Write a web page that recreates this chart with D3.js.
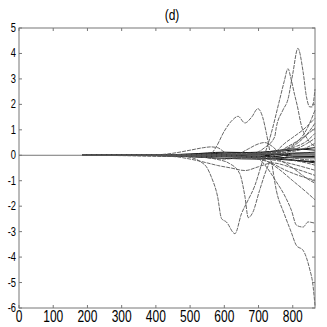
<!DOCTYPE html>
<html>
<head>
<meta charset="utf-8">
<script src="https://cdn.jsdelivr.net/npm/d3@7"></script>
<style>
  body { margin: 0; background: #fff; }
  svg { display: block; }
  text { font-family: "Liberation Sans", Arial, sans-serif; fill: #000; }
</style>
</head>
<body>
<svg id="chart" width="327" height="327"></svg>
<script>
// tick values
var xTicks = [0, 100, 200, 300, 400, 500, 600, 700, 800];
var yTicks = [5, 4, 3, 2, 1, 0, -1, -2, -3, -4, -5, -6];

// the big curves as [x, y]
var baseLine = [[0, 0], [865, 0]];
var humpToMinusSix = [[185, 0], [540, 0], [560, 0.05], [575, 0.3], [600, 0.95], [625, 1.4], [640, 1.53], [660, 1.27], [680, 1.5], [698, 1.83], [712, 1.5], [723, 0.86], [735, 0], [752, -1.38], [775, -2.3], [795, -3.0], [811, -3.55], [830, -3.73], [850, -4.5], [858, -5.0], [865, -5.9]];
var dipThenPeak = [[185, 0], [450, 0], [500, -0.08], [530, -0.25], [550, -0.5], [562, -0.85], [580, -1.6], [592, -2.49], [606, -2.62], [631, -3.08], [650, -2.3], [668, -1.8], [689, -1.2], [710, -0.3], [737, 0.86], [762, 2.2], [775, 2.9], [786, 3.4], [795, 3.0], [805, 2.4], [813, 1.96], [825, 1.18], [845, 0.6], [865, 0.35]];
var wDip = [[185, 0], [480, 0], [525, -0.05], [575, -0.15], [616, -0.33], [645, -0.72], [660, -1.6], [670, -2.45], [683, -2.25], [703, -1.38], [725, -0.5], [750, 0.1], [775, 0.45], [800, 0.7], [830, 1.0], [865, 1.45]];
var rightDip = [[185, 0], [600, 0], [650, -0.05], [700, -0.15], [723, -0.46], [750, -1.0], [777, -1.6], [796, -2.16], [811, -2.75], [830, -2.82], [845, -2.62], [865, -2.67]];
var tallPeak = [[185, 0], [620, 0], [680, 0.05], [718, 0.3], [747, 0.72], [752, 1.1], [771, 1.77], [786, 2.2], [800, 3.2], [815, 4.2], [830, 3.3], [840, 2.3], [850, 1.9], [857, 1.9], [865, 2.6]];
var smallArc = [[185, 0], [400, 0.02], [450, 0.08], [500, 0.2], [540, 0.3], [560, 0.33], [580, 0.3], [600, 0.13], [625, 0.02], [700, 0.05], [865, 0.1]];
var midArc = [[185, 0], [600, 0], [640, 0.05], [670, 0.25], [700, 0.45], [718, 0.5], [740, 0.35], [765, 0.05], [800, -0.1], [865, -0.2]];

// fan of lines opening at the right edge
var fanUp1 = [[185, 0], [500, 0.02], [650, 0.05], [750, 0.15], [800, 0.4], [840, 1.0], [865, 1.77]];
var fanUp2 = [[185, 0], [500, -0.02], [650, 0.02], [750, 0.1], [800, 0.35], [840, 0.8], [865, 1.26]];
var fanUp3 = [[185, 0], [500, 0.01], [650, 0.04], [727, -0.1], [780, 0.3], [830, 0.7], [865, 1.06]];
var fanUp4 = [[185, 0], [500, 0.03], [650, 0.08], [750, 0.12], [800, 0.3], [840, 0.55], [865, 0.86]];
var fanUp5 = [[185, 0], [500, -0.01], [650, 0.03], [750, 0.05], [800, 0.2], [840, 0.45], [865, 0.67]];
var fanUp6 = [[185, 0], [500, 0.02], [650, 0.06], [750, 0.1], [800, 0.15], [840, 0.3], [865, 0.47]];
var fanDown1 = [[185, 0], [500, -0.02], [650, -0.05], [750, -0.1], [800, -0.2], [840, -0.3], [865, -0.39]];
var fanDown2 = [[185, 0], [500, -0.04], [600, -0.15], [650, -0.1], [750, -0.2], [800, -0.35], [865, -0.59]];
var fanDown3 = [[185, 0], [450, -0.05], [500, -0.15], [550, -0.3], [580, -0.4], [620, -0.5], [660, -0.6], [700, -0.45], [740, -0.3], [800, -0.5], [865, -0.79]];
var fanDown4 = [[185, 0], [500, -0.03], [650, -0.08], [727, -0.25], [781, -0.6], [830, -0.85], [865, -0.98]];
var fanDown5 = [[185, 0], [500, -0.01], [650, -0.04], [750, -0.15], [800, -0.5], [840, -0.9], [865, -1.1]];
var fanDown6 = [[185, 0], [600, -0.05], [700, -0.1], [727, -0.25], [760, -0.55], [800, -1.0], [840, -1.45], [865, -1.75]];

// dense bundle hugging zero
var bundle1 = [[185, 0], [400, 0.01], [500, 0.04], [600, 0.08], [700, 0.12], [750, 0.15], [800, 0.2], [865, 0.3]];
var bundle2 = [[185, 0], [400, -0.01], [500, -0.03], [600, -0.06], [700, -0.1], [750, -0.15], [800, -0.2], [865, -0.25]];
var bundle3 = [[185, 0], [400, 0.005], [500, 0.02], [600, 0.03], [700, 0.05], [750, 0.03], [800, 0.08], [865, 0.12]];
var bundle4 = [[185, 0], [400, -0.005], [500, -0.02], [600, -0.04], [700, -0.03], [750, -0.07], [800, -0.1], [865, -0.1]];
var bundle5 = [[185, 0], [400, 0.01], [500, 0.05], [600, 0.12], [700, 0.1], [750, 0.18], [800, 0.25], [865, 0.2]];
var bundle6 = [[185, 0], [400, -0.01], [500, -0.06], [600, -0.12], [700, -0.15], [750, -0.12], [800, -0.18], [865, -0.3]];
var bundle7 = [[185, 0], [400, 0], [500, 0.02], [600, -0.02], [700, 0.05], [750, -0.05], [800, 0.05], [865, 0.05]];
var bundle8 = [[185, 0], [400, 0], [500, -0.01], [600, 0.02], [700, -0.06], [750, 0.06], [800, -0.04], [865, -0.05]];

var curves = [humpToMinusSix, dipThenPeak, wDip, rightDip, tallPeak, smallArc, midArc,
  fanUp1, fanUp2, fanUp3, fanUp4, fanUp5, fanUp6,
  fanDown1, fanDown2, fanDown3, fanDown4, fanDown5, fanDown6];
var bundles = [bundle1, bundle2, bundle3, bundle4, bundle5, bundle6, bundle7, bundle8];

var svg = d3.select("#chart");
var padL = 19, padR = 315, padT = 28, padB = 308;

var x = d3.scaleLinear().domain([0, 865]).range([padL, padR]);
var y = d3.scaleLinear().domain([-6, 5]).range([padB, padT]);

var line = d3.line()
  .x(function (d) { return x(d[0]); })
  .y(function (d) { return y(d[1]); })
  .curve(d3.curveMonotoneX);

var plot = svg.append("g");

plot.append("path")
  .datum(baseLine)
  .attr("fill", "none")
  .attr("stroke", "#777")
  .attr("stroke-width", 1)
  .attr("d", line);

plot.selectAll("path.bundle")
  .data(bundles)
  .enter()
  .append("path")
  .attr("class", "bundle")
  .attr("fill", "none")
  .attr("stroke", "#111")
  .attr("stroke-width", 1)
  .attr("d", line);

plot.selectAll("path.curve")
  .data(curves)
  .enter()
  .append("path")
  .attr("class", "curve")
  .attr("fill", "none")
  .attr("stroke", "#555")
  .attr("stroke-width", 0.9)
  .attr("stroke-dasharray", "4,1")
  .attr("d", line);

// box
svg.append("rect")
  .attr("x", padL).attr("y", padT)
  .attr("width", padR - padL).attr("height", padB - padT)
  .attr("fill", "none").attr("stroke", "#777").attr("stroke-width", 1);

// inward ticks on all four sides
var tickLen = 3;
svg.append("g").selectAll("line")
  .data(xTicks)
  .enter()
  .append("line")
  .attr("x1", function (d) { return x(d); })
  .attr("x2", function (d) { return x(d); })
  .attr("y1", padB).attr("y2", padB - tickLen)
  .attr("stroke", "#777");
svg.append("g").selectAll("line")
  .data(xTicks)
  .enter()
  .append("line")
  .attr("x1", function (d) { return x(d); })
  .attr("x2", function (d) { return x(d); })
  .attr("y1", padT).attr("y2", padT + tickLen)
  .attr("stroke", "#777");
svg.append("g").selectAll("line")
  .data(yTicks)
  .enter()
  .append("line")
  .attr("x1", padL).attr("x2", padL + tickLen)
  .attr("y1", function (d) { return y(d); })
  .attr("y2", function (d) { return y(d); })
  .attr("stroke", "#777");
svg.append("g").selectAll("line")
  .data(yTicks)
  .enter()
  .append("line")
  .attr("x1", padR).attr("x2", padR - tickLen)
  .attr("y1", function (d) { return y(d); })
  .attr("y2", function (d) { return y(d); })
  .attr("stroke", "#777");

// tick labels
svg.append("g").selectAll("text")
  .data(xTicks)
  .enter()
  .append("text")
  .attr("transform", function (d) { return "translate(" + x(d) + ",322) scale(1,1.35)"; })
  .attr("text-anchor", "middle")
  .style("font-size", "12px")
  .text(function (d) { return d; });

svg.append("g").selectAll("text")
  .data(yTicks)
  .enter()
  .append("text")
  .attr("transform", function (d) { return "translate(16," + (y(d) + 4) + ") scale(0.85,1.1)"; })
  .attr("text-anchor", "end")
  .style("font-size", "11px")
  .text(function (d) { return d; });

svg.append("text")
  .attr("transform", "translate(172,20) scale(1,1.15)")
  .attr("text-anchor", "middle")
  .style("font-size", "12px")
  .text("(d)");
</script>
</body>
</html>
